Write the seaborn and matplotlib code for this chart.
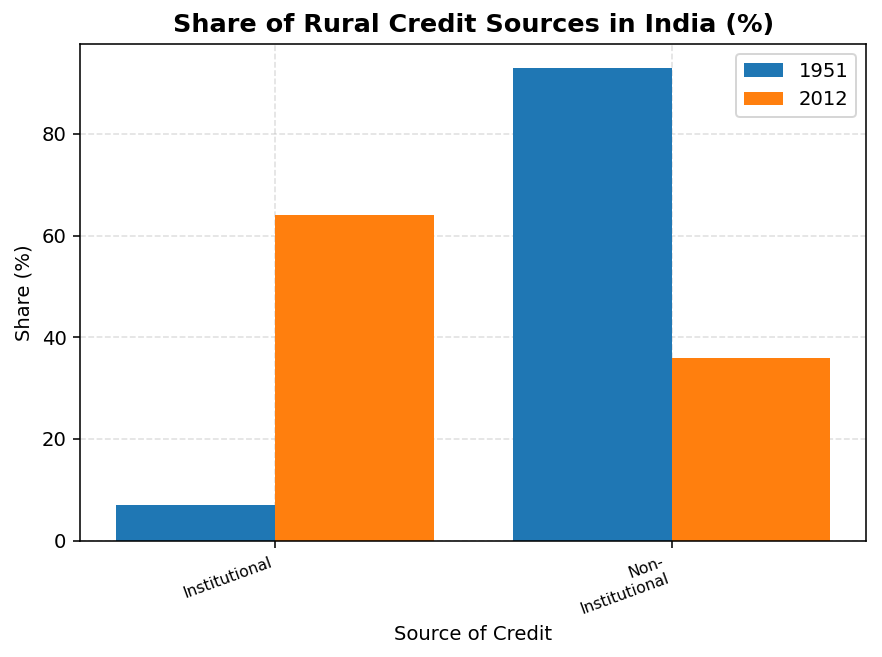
import pandas as pd
import seaborn as sns
import matplotlib.pyplot as plt

# data
sources = ["Institutional", "Non-\nInstitutional"]
years = ["1951", "2012"]
share_1951 = [7, 93]
share_2012 = [64, 36]

df = pd.DataFrame({
    "source": sources * 2,
    "year": [years[0]] * 2 + [years[1]] * 2,
    "share": share_1951 + share_2012,
})

DPI = 141
fig, ax = plt.subplots(figsize=(882 / DPI, 657 / DPI), dpi=DPI)
sns.barplot(data=df, x="source", y="share", hue="year",
            palette=["#1f77b4", "#ff7f0e"], saturation=1,
            width=0.8, errorbar=None, ax=ax)

ax.set_title("Share of Rural Credit Sources in India (%)", fontweight="bold", fontsize=13)
ax.set_xlabel("Source of Credit", fontsize=10)
ax.set_ylabel("Share (%)", fontsize=10)
ax.set_xlim(-0.49, 1.49)
ax.set_ylim(0, 97.65)
ax.grid(True, linestyle="--", alpha=0.4)
ax.set_axisbelow(True)
plt.setp(ax.get_xticklabels(), rotation=20, ha="right", fontsize=8)
ax.legend(title=None, loc="upper right")

fig.subplots_adjust(left=0.091, right=0.982, top=0.933, bottom=0.177)
plt.savefig("out.png", dpi=DPI)
